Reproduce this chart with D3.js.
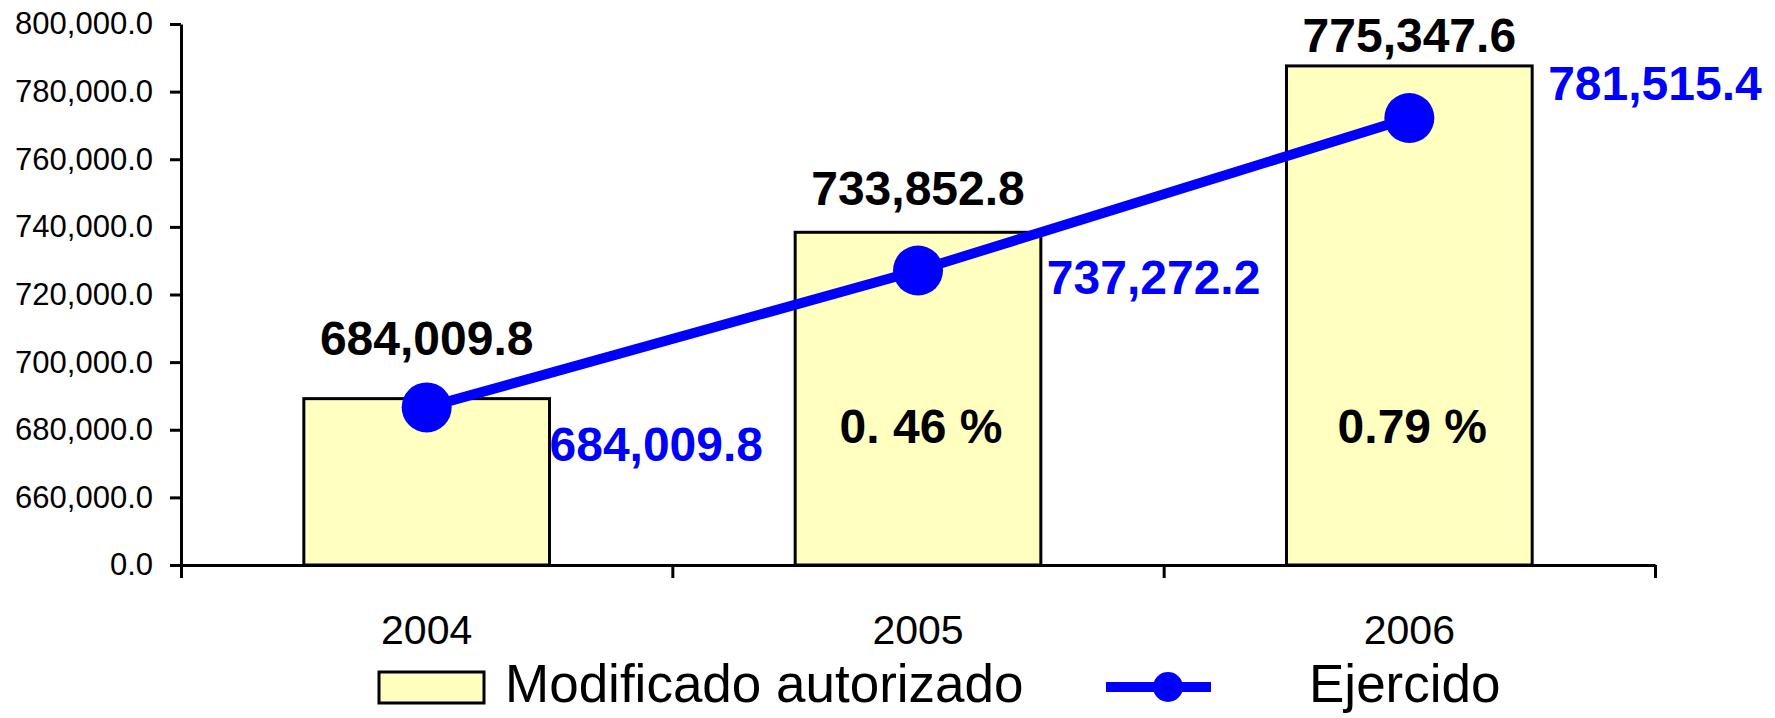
<!DOCTYPE html>
<html>
<head>
<meta charset="utf-8">
<script src="https://cdn.jsdelivr.net/npm/d3@7"></script>
<style>
  body { margin: 0; background: #fff; }
  svg { font-family: "Liberation Sans", Arial, sans-serif; }
</style>
</head>
<body>
<div id="chart"></div>
<script>
// Data
const years = ["2004", "2005", "2006"];
const autorizado = [689200, 738400, 787600];   // bar heights as drawn
const ejercido = [686600, 727100, 772200];     // line points as drawn
const autorizadoLabels = ["684,009.8", "733,852.8", "775,347.6"];
const ejercidoLabels = ["684,009.8", "737,272.2", "781,515.4"];
const pctLabels = ["", "0. 46 %", "0.79 %"];
const yTicks = [640000, 660000, 680000, 700000, 720000, 740000, 760000, 780000, 800000];
const seriesNames = ["Modificado autorizado", "Ejercido"];

const width = 1775, height = 718;
const plot = { left: 181, right: 1655, top: 24, bottom: 565 };
const barFill = "#ffffc0", blue = "#0000ff";

const svg = d3.select("#chart").append("svg")
  .attr("width", width)
  .attr("height", height);

svg.append("rect").attr("width", width).attr("height", height).attr("fill", "#fff");

const x = d3.scaleBand().domain(years).range([plot.left, plot.right]).paddingInner(0.5).paddingOuter(0.25);
const y = d3.scaleLinear().domain([640000, 800000]).range([plot.bottom, plot.top]);
const cx = d => x(d) + x.bandwidth() / 2;

// Bars
svg.selectAll(".bar")
  .data(years)
  .join("rect")
  .attr("class", "bar")
  .attr("x", d => x(d))
  .attr("width", x.bandwidth())
  .attr("y", (d, i) => y(autorizado[i]))
  .attr("height", (d, i) => y(640000) - y(autorizado[i]))
  .attr("fill", barFill)
  .attr("stroke", "#000")
  .attr("stroke-width", 3);

// Y axis (first tick stands for the broken base, labelled 0.0)
const yAxis = d3.axisLeft(y)
  .tickValues(yTicks)
  .tickFormat(d => d === 640000 ? "0.0" : d3.format(",.1f")(d))
  .tickSize(11)
  .tickSizeOuter(0)
  .tickPadding(17);

const gy = svg.append("g").attr("transform", `translate(${plot.left},0)`).call(yAxis);
gy.selectAll("text").attr("font-size", 31).attr("fill", "#000").attr("font-family", "Liberation Sans, Arial, sans-serif");
gy.selectAll("line, path").attr("stroke", "#000").attr("stroke-width", 3);

// X axis: boundary ticks and category labels
const xEdges = d3.scaleLinear().domain([0, years.length]).range([plot.left, plot.right]);
const gx = svg.append("g").attr("transform", `translate(0,${plot.bottom})`)
  .call(d3.axisBottom(xEdges).ticks(years.length).tickFormat("").tickSize(13).tickSizeOuter(0));
gx.selectAll("line, path").attr("stroke", "#000").attr("stroke-width", 3);

svg.append("g").attr("transform", `translate(0,${plot.bottom})`)
  .call(d3.axisBottom(x).tickSize(0).tickPadding(50))
  .call(g => g.select(".domain").remove())
  .selectAll("text")
  .attr("font-size", 41)
  .attr("fill", "#000")
  .attr("font-family", "Liberation Sans, Arial, sans-serif");

// Line
const line = d3.line().x(d => cx(d[0])).y(d => y(d[1]));
svg.append("path")
  .datum(years.map((d, i) => [d, ejercido[i]]))
  .attr("d", line)
  .attr("fill", "none")
  .attr("stroke", blue)
  .attr("stroke-width", 10);

svg.selectAll(".pt")
  .data(years)
  .join("circle")
  .attr("class", "pt")
  .attr("cx", d => cx(d))
  .attr("cy", (d, i) => y(ejercido[i]))
  .attr("r", 25)
  .attr("fill", blue);

// Labels
const barLabelDy = [44, 27, 14];
svg.selectAll(".blabel")
  .data(years)
  .join("text")
  .attr("class", "blabel")
  .attr("x", d => cx(d))
  .attr("y", (d, i) => y(autorizado[i]) - barLabelDy[i])
  .attr("text-anchor", "middle")
  .attr("font-size", 48)
  .attr("font-weight", "bold")
  .attr("fill", "#000")
  .text((d, i) => autorizadoLabels[i]);

const lineLabelDx = [0, 6, 16], lineLabelDy = [54, 24, -18];
svg.selectAll(".llabel")
  .data(years)
  .join("text")
  .attr("class", "llabel")
  .attr("x", (d, i) => x(d) + x.bandwidth() + lineLabelDx[i])
  .attr("y", (d, i) => y(ejercido[i]) + lineLabelDy[i])
  .attr("font-size", 48)
  .attr("font-weight", "bold")
  .attr("fill", blue)
  .text((d, i) => ejercidoLabels[i]);

svg.selectAll(".plabel")
  .data(years)
  .join("text")
  .attr("class", "plabel")
  .attr("x", d => cx(d) + 3)
  .attr("y", y(680000) + 13)
  .attr("text-anchor", "middle")
  .attr("font-size", 48)
  .attr("font-weight", "bold")
  .attr("fill", "#000")
  .text((d, i) => pctLabels[i]);

// Legend
const legend = svg.append("g");
legend.append("rect")
  .attr("x", 379).attr("y", 672).attr("width", 105).attr("height", 31)
  .attr("fill", barFill).attr("stroke", "#000").attr("stroke-width", 3);
legend.append("text")
  .attr("x", 505).attr("y", 702)
  .attr("font-size", 53).attr("fill", "#000")
  .text(seriesNames[0]);
legend.append("line")
  .attr("x1", 1106).attr("x2", 1211).attr("y1", 687).attr("y2", 687)
  .attr("stroke", blue).attr("stroke-width", 10);
legend.append("circle")
  .attr("cx", 1168).attr("cy", 687).attr("r", 15).attr("fill", blue);
legend.append("text")
  .attr("x", 1309).attr("y", 702)
  .attr("font-size", 53).attr("fill", "#000")
  .text(seriesNames[1]);
</script>
</body>
</html>
